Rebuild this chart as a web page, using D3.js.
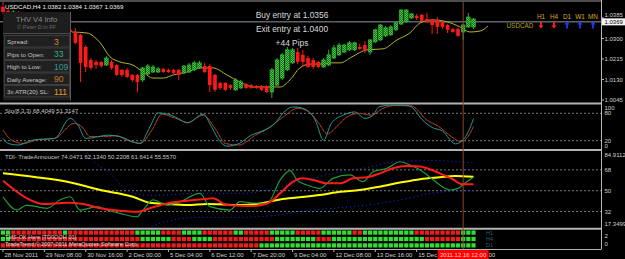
<!DOCTYPE html>
<html>
<head>
<meta charset="utf-8">
<script src="https://cdn.jsdelivr.net/npm/d3@7"></script>
<style>
body { margin: 0; background: #000; }
svg { display: block; font-family: "Liberation Sans", Arial, sans-serif; }
</style>
</head>
<body>
<div class="chart"></div>
<script>
// USDCAD H4

// candles, one per H4 bar (bar 0 = 28 Nov 00:00)
var opens  = [1.0431,1.0414,1.0398,1.0410,1.0389,1.0377,1.0389,1.0369,1.0356,1.0365,
              1.0348,1.0340,1.0352,1.0336,1.0327,1.0315,1.0265,1.0211,1.0203,1.0203,
              1.0190,1.0203,1.0190,1.0170,1.0170,1.0149,1.0149,1.0128,1.0153,1.0161,
              1.0161,1.0174,1.0170,1.0170,1.0170,1.0157,1.0161,1.0170,1.0178,1.0186,
              1.0186,1.0149,1.0116,1.0116,1.0107,1.0087,1.0095,1.0111,1.0107,1.0103,
              1.0103,1.0103,1.0078,1.0107,1.0136,1.0170,1.0199,1.0244,1.0232,1.0219,
              1.0211,1.0203,1.0182,1.0190,1.0219,1.0232,1.0244,1.0253,1.0253,1.0265,
              1.0273,1.0244,1.0286,1.0294,1.0311,1.0315,1.0336,1.0360,1.0369,1.0385,
              1.0394,1.0398,1.0381,1.0377,1.0377,1.0369,1.0356,1.0340,1.0340,1.0327,
              1.0348,1.0348];
var highs  = [1.0452,1.0422,1.0418,1.0414,1.0394,1.0398,1.0394,1.0373,1.0373,1.0369,
              1.0356,1.0360,1.0356,1.0344,1.0344,1.0319,1.0273,1.0219,1.0211,1.0207,
              1.0228,1.0211,1.0194,1.0174,1.0178,1.0153,1.0153,1.0182,1.0194,1.0190,
              1.0182,1.0178,1.0174,1.0174,1.0174,1.0190,1.0199,1.0207,1.0207,1.0199,
              1.0194,1.0153,1.0120,1.0120,1.0111,1.0136,1.0128,1.0116,1.0111,1.0107,
              1.0107,1.0107,1.0178,1.0219,1.0240,1.0265,1.0261,1.0261,1.0253,1.0228,
              1.0219,1.0207,1.0219,1.0253,1.0273,1.0282,1.0278,1.0290,1.0286,1.0278,
              1.0290,1.0298,1.0340,1.0360,1.0352,1.0356,1.0369,1.0422,1.0422,1.0406,
              1.0402,1.0402,1.0406,1.0381,1.0389,1.0373,1.0360,1.0344,1.0344,1.0360,
              1.0406,1.0385];
var lows   = [1.0402,1.0394,1.0390,1.0381,1.0369,1.0373,1.0360,1.0348,1.0352,1.0340,
              1.0331,1.0336,1.0327,1.0319,1.0277,1.0120,1.0161,1.0170,1.0174,1.0178,
              1.0186,1.0170,1.0145,1.0141,1.0136,1.0120,1.0078,1.0120,1.0149,1.0157,
              1.0157,1.0157,1.0157,1.0149,1.0128,1.0153,1.0157,1.0165,1.0174,1.0157,
              1.0078,1.0078,1.0087,1.0082,1.0087,1.0082,1.0091,1.0091,1.0091,1.0091,
              1.0082,1.0074,1.0053,1.0103,1.0128,1.0165,1.0194,1.0194,1.0182,1.0178,
              1.0174,1.0178,1.0178,1.0186,1.0215,1.0228,1.0240,1.0248,1.0248,1.0253,
              1.0240,1.0232,1.0282,1.0290,1.0306,1.0311,1.0331,1.0356,1.0365,1.0381,
              1.0377,1.0369,1.0365,1.0319,1.0319,1.0340,1.0323,1.0323,1.0306,1.0294,
              1.0344,1.0340];
var closes = [1.0410,1.0398,1.0410,1.0389,1.0377,1.0389,1.0369,1.0356,1.0365,1.0348,
              1.0340,1.0352,1.0336,1.0327,1.0282,1.0199,1.0182,1.0178,1.0190,1.0186,
              1.0219,1.0178,1.0149,1.0149,1.0141,1.0128,1.0120,1.0178,1.0186,1.0182,
              1.0174,1.0161,1.0161,1.0157,1.0149,1.0186,1.0190,1.0199,1.0199,1.0161,
              1.0107,1.0087,1.0095,1.0087,1.0095,1.0128,1.0120,1.0095,1.0095,1.0095,
              1.0087,1.0078,1.0170,1.0211,1.0232,1.0253,1.0253,1.0203,1.0203,1.0182,
              1.0182,1.0182,1.0211,1.0232,1.0261,1.0273,1.0273,1.0282,1.0282,1.0257,
              1.0253,1.0294,1.0336,1.0356,1.0344,1.0348,1.0365,1.0418,1.0418,1.0402,
              1.0385,1.0373,1.0369,1.0356,1.0348,1.0348,1.0336,1.0327,1.0311,1.0356,
              1.0389,1.0381];

// moving average (shifted), bar position / price
var maBars   = [13.3,16.2,18.8,20.7,22.6,25.1,27.1,29,31,32.9,35.6,38.1,40.6,43.3,45.8,48.4,51.1,53.6,55.5,57.4,59.4,61.3,63.2,65.2,67.5,70.4,73.5,76.2,78.7,80.7,83.2,85.9,88.4,90.3,92.3,93.8];
var maValues = [1.0327,1.0323,1.0282,1.0224,1.0203,1.0190,1.0161,1.0136,1.0136,1.0149,1.0161,1.0178,1.0178,1.0149,1.0120,1.0099,1.0099,1.0099,1.0128,1.0178,1.0194,1.0194,1.0199,1.0199,1.0224,1.0253,1.0257,1.0294,1.0323,1.0365,1.0377,1.0369,1.0348,1.0327,1.0331,1.0352];

var priceTicks = [1.0385, 1.0300, 1.0215, 1.0130, 1.0045];
var lastPrice = 1.0369;

// Stochastic(8,3,3)
var stoMainBars = [0,1,3,5.6,8,10,13,14.5,16,18.5,20,22.6,25,26.5,28.4,30,32,33.8,35.7,38.7,40.3,41.8,43.3,45.7,48,50.3,52.6,54.2,56,58,60.4,62,63.5,65.8,68,70,71.6,72.7,75,77.4,79,81,83,85,87.5,89,90,91];
var stoMain    = [25,14,10.5,21,23,25,69,54,25,29,32,29,18,14,50,81,78,69,59,78,51,21,8,14,32,42,58,81,94,91,65,21,58,76,83,69,76,94,98,98,94,67,49,41,13,22,40,68.4];
var stoSigBars = [0,1.7,4,7,10,13.7,15.3,16.8,19.5,21.8,24,26.5,28.8,30.7,33.4,35.7,38.7,41,43,45.7,48.8,51,54.2,57,59.2,61.1,62.7,64.6,66.5,68.9,71.2,73.5,75.8,79,82,84.3,86.7,88.6,90,91];
var stoSignal  = [43,21,14,23,25,58,50,29,29,31,21,14,43,78,69,60,76,47,14,10.5,32,45,72,91,83,58,35,51,72,80,76,91,97,96,65,51,29,18,30,51.3];
var stoLevels = [80, 20];
var stoTicks = [100, 80, 20, 0];

// TDI
var tdiYellowBars = [0,5.8,12.4,18.8,25.1,28.4,31.7,35.6,39.5,42,45.8,49.7,53.6,57.4,61.3,65.2,69,72.9,76.8,80.7,84.5,87.4,91];
var tdiYellow     = [65,62,57.8,50.6,44.8,39.6,38.5,37.6,38.5,38.2,37.6,39,42.5,44.3,46.3,49,50.6,53.5,57,60,61.6,62.7,62.1];
var tdiGreenBars = [0,2.7,4.6,8.5,11,13,14.9,18.2,20.1,22.6,25.9,27.1,29,31.7,34.2,38.1,40,43.9,45.8,47.8,51.1,53.6,55.5,56.9,58.8,61.3,63.8,67.1,69.6,71.6,74.3,76.8,78.7,80.7,82.6,84.5,86.5,88,89.7,91];
var tdiGreen     = [44.8,33.3,37.6,34.8,42,44.8,33.3,36.2,33.3,30.4,27.5,33.3,42,37.6,40.5,47.7,36.2,33.3,40.5,39.6,39,59.2,67.3,59.2,54.9,52,60.7,63.6,57.8,66.4,69.4,75,72.2,67.9,61.6,54.9,50.6,52,57.8,61.6];
var tdiRedBars = [0,1.4,4.6,7.7,12.4,15.5,18.8,22.6,25.9,28.4,31.7,35.6,39.5,40.6,43.3,47.8,51.1,53.6,56.1,58,60,62.7,65.2,67.7,70.4,72.9,75.4,78.1,80.7,82,84.5,87,88.8,91];
var tdiRed     = [58.6,53.5,43.4,38.5,39.6,38.5,34.8,32.7,31.8,34.8,39,41.3,43,43.4,37.6,36.7,39,47.7,57.8,60.7,59.2,56.4,56.4,60.7,61.6,65,69.4,71.4,71,69.4,65,59.9,55.5,55.6];
var tdiUpBars = [15.9,16.8,20.7,23.2,25.5,28.4,38.1,46.4,51.1,57.4,63.8,70.4,76.8,83.2,91];
var tdiUp     = [86,79.4,65,53.5,47.5,46,47.7,47.7,50.6,57.8,65,70,75.5,76,74];
var tdiLoBars = [15,16.8,22.6,28.4,30.4,38.1,44.5,51.1,57.4,63.8,70.4,76.8,83.2,91];
var tdiLo     = [16,18,16.5,18,22,27,27,28,32,34.8,37.6,42,48,50.2];
var tdiLevels = [68, 50, 32];
var tdiTicks = ["84.9112", "68", "50", "32", "17.3499"];

// trend squares (H1, H4, D1 rows), G = up, R = down
var trendRows = [
  "GGRRRRRRRR" + "RRGRRRRRRR" + "RRRRRRGGGG" + "GRRRRGGGGR" + "RRRRRGGRRR" + "RRGGGGGRRR" + "RRGGGGGGRR" + "GGGGGGGGGG" + "RRRRRRRRRG" + "GG",
  "GGRRRRRRRR" + "RRRRRRRRRR" + "RRRRRRRGGG" + "GGGRRRRGGG" + "GRRRRRRRRR" + "RRRGGGGGGG" + "GRRRGGGGGG" + "GGGGGGGGGG" + "GGRRRRRRRG" + "GG",
  "RRRRRRRRRR" + "RRRRRRRRRR" + "RRRRRRRRRR" + "RRRRRRRRRR" + "RRRRRRRRRR" + "GGGGGGGGGG" + "GGGGGGGGGG" + "GGGGGGGGGG" + "GGGGGGGGGG" + "GG"
];
var trendNames = ["H1", "H4", "D1"];

var timeLabels = ["28 Nov 2011", "29 Nov 08:00", "30 Nov 16:00", "2 Dec 00:00", "5 Dec 04:00", "6 Dec 12:00",
                  "7 Dec 20:00", "9 Dec 04:00", "12 Dec 08:00", "13 Dec 16:00", "15 Dec 00:00", "16 Dec 08:00"];
var timeLabelBars = [0, 8, 16, 24, 32, 40, 48, 56, 64, 72, 80, 88];
var vlineBar = 89;
var vlineLabel = "2011.12.16 12:00";

var infoLabels = ["Spread:", "Pips to Open:", "High to Low:", "Daily Average:", "3x ATR(20) SL:"];
var infoValues = ["3", "33", "109", "90", "111"];
var infoColors = ["#d88a30", "#2fae86", "#3a9494", "#c47a2a", "#e89a2a"];

var tfNames = ["H1", "H4", "D1", "W1", "MN"];
var tfDirs = [-1, -1, 1, 1, 1];

// ---- layout ----
var W = 625, H = 259;
var plotRight = 601;
var panels = {
  main:  {top: 2,     bottom: 102.5},
  sto:   {top: 104.5, bottom: 149},
  tdi:   {top: 151,   bottom: 227.8},
  trend: {top: 229.8, bottom: 249}
};

var svg = d3.select(".chart").append("svg")
  .attr("width", W).attr("height", H);
svg.append("rect").attr("width", W).attr("height", H).attr("fill", "#000");

var defs = svg.append("defs");
Object.keys(panels).forEach(function(k) {
  var p = panels[k];
  defs.append("clipPath").attr("id", "clip-" + k)
    .append("rect").attr("x", 0).attr("y", p.top).attr("width", plotRight).attr("height", p.bottom - p.top);
});
var hatch = defs.append("pattern").attr("id", "hatch")
  .attr("width", 2).attr("height", 2).attr("patternUnits", "userSpaceOnUse");
hatch.append("rect").attr("width", 2).attr("height", 2).attr("fill", "#136a13");
hatch.append("rect").attr("width", 1).attr("height", 1).attr("fill", "#4ccc4c");
hatch.append("rect").attr("x", 1).attr("y", 1).attr("width", 1).attr("height", 1).attr("fill", "#4ccc4c");

var xs = d3.scaleLinear().domain([0, 91]).range([3, 473.5]);
var yP = d3.scaleLinear().domain([1.0045, 1.0300]).range([100, 38.5]);
var ySto = d3.scaleLinear().domain([0, 100]).range([149.8, 104.2]);
var yTdi = d3.scaleLinear().domain([17.3499, 84.9112]).range([228.5, 150.3]);

function text(g, x, y, s, size, color, anchor) {
  return g.append("text").attr("x", x).attr("y", y).text(s)
    .attr("font-size", size).attr("fill", color)
    .attr("text-anchor", anchor || "start")
    .attr("dominant-baseline", "central");
}

// ---- frame ----
svg.append("line").attr("x1", 0).attr("x2", plotRight).attr("y1", 1).attr("y2", 1)
  .attr("stroke", "#9a9a9a").attr("stroke-width", 1);
svg.append("line").attr("x1", plotRight + 0.5).attr("x2", plotRight + 0.5).attr("y1", 0).attr("y2", 249.5)
  .attr("stroke", "#b8b8b8");
[103.5, 150, 228.8].forEach(function(y) {
  svg.append("line").attr("x1", 0).attr("x2", plotRight).attr("y1", y).attr("y2", y)
    .attr("stroke", "#b4b4b4").attr("stroke-width", 2);
});
svg.append("line").attr("x1", 0).attr("x2", plotRight).attr("y1", 249.5).attr("y2", 249.5)
  .attr("stroke", "#b4b4b4").attr("stroke-width", 1);

// ---- main panel ----
var main = svg.append("g").attr("clip-path", "url(#clip-main)");

main.append("line").attr("x1", 0).attr("x2", plotRight)
  .attr("y1", yP(lastPrice)).attr("y2", yP(lastPrice))
  .attr("stroke", "#8c96a0").attr("stroke-width", 1);

text(main, 5, 6.5, "USDCAD,H4  1.0382 1.0384 1.0367 1.0369", "6.2px", "#f0f0f0");

var maLine = d3.line().x(function(d) { return xs(d[0]); }).y(function(d) { return yP(d[1]); })
  .curve(d3.curveMonotoneX);
main.append("path").datum(d3.zip(maBars, maValues)).attr("d", maLine)
  .attr("fill", "none").attr("stroke", "#b4b428").attr("stroke-width", 1);

var bars = opens.map(function(o, i) {
  return {i: i, o: o, h: highs[i], l: lows[i], c: closes[i]};
});
main.selectAll("line.wick").data(bars).enter().append("line")
  .attr("class", "wick")
  .attr("x1", function(d) { return xs(d.i); }).attr("x2", function(d) { return xs(d.i); })
  .attr("y1", function(d) { return yP(d.h); }).attr("y2", function(d) { return yP(d.l); })
  .attr("stroke", function(d) { return d.c >= d.o ? "#2fae2f" : "#ff1818"; })
  .attr("stroke-width", 1);
main.selectAll("rect.body").data(bars).enter().append("rect")
  .attr("class", "body")
  .attr("x", function(d) { return xs(d.i) - 1.8; })
  .attr("width", 3.6)
  .attr("y", function(d) { return yP(Math.max(d.o, d.c)); })
  .attr("height", function(d) { return Math.max(1, Math.abs(yP(d.o) - yP(d.c))); })
  .attr("fill", function(d) { return d.c >= d.o ? "url(#hatch)" : "#ff1818"; })
  .attr("stroke", function(d) { return d.c >= d.o ? "#33b833" : "none"; })
  .attr("stroke-width", 0.7);

text(main, 292, 15, "Buy entry at 1.0356", "8.4px", "#d8d8d8", "middle");
text(main, 292, 29, "Exit entry at 1.0400", "8.4px", "#d8d8d8", "middle");
text(main, 292, 42.5, "+44 Pips", "8.4px", "#d8d8d8", "middle");

// timeframe arrows
var tfX = d3.scalePoint().domain(tfNames).range([541, 593]);
tfNames.forEach(function(n, k) {
  var cx = tfX(n);
  text(main, cx, 16, n, "6.4px", "#d8aa18", "middle");
  var d = tfDirs[k];
  var tip = d > 0 ? 21.5 : 28.5;
  var base = d > 0 ? 28.5 : 21.5;
  var neck = tip + d * 3;
  main.append("path")
    .attr("d", "M" + cx + "," + tip + "L" + (cx + 2.6) + "," + neck + "L" + (cx + 0.9) + "," + neck +
      "L" + (cx + 0.9) + "," + base + "L" + (cx - 0.9) + "," + base + "L" + (cx - 0.9) + "," + neck +
      "L" + (cx - 2.6) + "," + neck + "Z")
    .attr("fill", d > 0 ? "#1a3cff" : "#ff2020");
});
text(main, 520, 25, "USDCAD", "6.4px", "#b8a014", "middle");

// info box
var info = svg.append("g");
info.append("rect").attr("x", 3).attr("y", 12).attr("width", 67).attr("height", 88.5)
  .attr("fill", "#1d1d1d");
info.append("line").attr("x1", 70.5).attr("x2", 70.5).attr("y1", 12).attr("y2", 100.5).attr("stroke", "#5a5a5a");
info.append("line").attr("x1", 3).attr("x2", 70).attr("y1", 33.5).attr("y2", 33.5).attr("stroke", "#4a4a4a");
text(info, 36.5, 19.5, "THV  V4  Info", "7.6px", "#8c8c8c", "middle");
text(info, 36.5, 27, "\u00a9 Peter D in FF", "5.6px", "#6c6c6c", "middle");
infoLabels.forEach(function(lab, k) {
  var top = 35.5 + k * 12.5;
  info.append("rect").attr("x", 4.5).attr("y", top).attr("width", 65).attr("height", 11.5)
    .attr("fill", "#202020").attr("stroke", "#3c3c3c").attr("stroke-width", 1);
  text(info, 7, top + 6, lab, "6.2px", "#c4c4c4");
  text(info, 54, top + 6, infoValues[k], "8.6px", infoColors[k]);
});

// ---- stochastic panel ----
var sto = svg.append("g").attr("clip-path", "url(#clip-sto)");
stoLevels.forEach(function(v) {
  sto.append("line").attr("x1", 0).attr("x2", plotRight).attr("y1", ySto(v)).attr("y2", ySto(v))
    .attr("stroke", "#7c7c7c").attr("stroke-dasharray", "2,2");
});
var stoLine = d3.line().x(function(d) { return xs(d[0]); }).y(function(d) { return ySto(d[1]); })
  .curve(d3.curveMonotoneX);
sto.append("path").datum(d3.zip(stoSigBars, stoSignal)).attr("d", stoLine)
  .attr("fill", "none").attr("stroke", "#8a4020").attr("stroke-width", 1);
sto.append("path").datum(d3.zip(stoSigBars, stoSignal)).attr("d", stoLine)
  .attr("fill", "none").attr("stroke", "#ff2a10").attr("stroke-width", 1).attr("stroke-dasharray", "1,3");
sto.append("path").datum(d3.zip(stoMainBars, stoMain)).attr("d", stoLine)
  .attr("fill", "none").attr("stroke", "#1f9a9a").attr("stroke-width", 1);
text(sto, 5, 110.5, "Sto(8,3,3) 68.4049 51.3147", "6px", "#c4c4c4");

// ---- TDI panel ----
var tdi = svg.append("g").attr("clip-path", "url(#clip-tdi)");
tdiLevels.forEach(function(v) {
  tdi.append("line").attr("x1", 0).attr("x2", plotRight).attr("y1", yTdi(v)).attr("y2", yTdi(v))
    .attr("stroke", "#7c7c7c").attr("stroke-dasharray", "2,2");
});
var tdiLine = d3.line().x(function(d) { return xs(d[0]); }).y(function(d) { return yTdi(d[1]); })
  .curve(d3.curveMonotoneX);
tdi.append("path").datum(d3.zip(tdiUpBars, tdiUp)).attr("d", tdiLine)
  .attr("fill", "none").attr("stroke", "#1a2cff").attr("stroke-width", 1).attr("stroke-dasharray", "1,3");
tdi.append("path").datum(d3.zip(tdiLoBars, tdiLo)).attr("d", tdiLine)
  .attr("fill", "none").attr("stroke", "#1a2cff").attr("stroke-width", 1).attr("stroke-dasharray", "1,3");
tdi.append("path").datum(d3.zip(tdiYellowBars, tdiYellow)).attr("d", tdiLine)
  .attr("fill", "none").attr("stroke", "#ffff00").attr("stroke-width", 2);
tdi.append("path").datum(d3.zip(tdiGreenBars, tdiGreen)).attr("d", tdiLine)
  .attr("fill", "none").attr("stroke", "#1e9a3c").attr("stroke-width", 1.2);
tdi.append("path").datum(d3.zip(tdiRedBars, tdiRed)).attr("d", tdiLine)
  .attr("fill", "none").attr("stroke", "#ff1a1a").attr("stroke-width", 2);
text(tdi, 5, 157, "TDI- TradeAnnoucer 74.0471 62.1340 50.2208 61.6414 55.5570", "6px", "#c4c4c4");

// ---- trend squares ----
var trend = svg.append("g").attr("clip-path", "url(#clip-trend)");
var rowY = d3.scalePoint().domain(trendNames).range([232.6, 245.4]);
trendRows.forEach(function(row, r) {
  var cells = row.split("").map(function(c, i) { return {i: i, up: c === "G"}; });
  trend.selectAll("rect.r" + r).data(cells).enter().append("rect")
    .attr("x", function(d) { return xs(d.i) - 2.1; })
    .attr("y", rowY(trendNames[r]) - 2.1)
    .attr("width", 4.2).attr("height", 4.2)
    .attr("fill", function(d) { return d.up ? "#30e030" : "#f01c1c"; });
  text(trend, 486, rowY(trendNames[r]), trendNames[r], "5.5px", "#2c6270");
});
text(trend, 5, 236.5, "TMS-OK Here [TD0OOH 01]", "5.6px", "#dcdcdc");
text(trend, 5, 243.5, "TradeTrend \u00a9 2007-2011 MetaQuotes Software Corp.", "5.6px", "#dcdcdc");

// ---- vertical line ----
svg.append("line").attr("x1", xs(vlineBar)).attr("x2", xs(vlineBar)).attr("y1", 2).attr("y2", 249)
  .attr("stroke", "#8a4a28").attr("stroke-width", 1);

// ---- right axis ----
var ax = svg.append("g");
var boxY = yP(lastPrice);
priceTicks.forEach(function(p) {
  var y = yP(p);
  ax.append("line").attr("x1", plotRight).attr("x2", plotRight + 3).attr("y1", y).attr("y2", y).attr("stroke", "#b8b8b8");
  // labels crowded by the price box move up out of it
  var ly = Math.abs(y - boxY) < 7 ? boxY - 7 : y;
  text(ax, 604.5, ly, p.toFixed(4), "6px", "#d0d0d0");
});
ax.append("rect").attr("x", 602).attr("y", boxY - 3.5).attr("width", 23).attr("height", 7).attr("fill", "#f4f4f4");
text(ax, 604.5, boxY, lastPrice.toFixed(4), "6px", "#000");

stoTicks.forEach(function(v) {
  var y = Math.min(Math.max(ySto(v), panels.sto.top + 3), panels.sto.bottom - 3.5);
  text(ax, 604.5, y, String(v), "6px", "#d0d0d0");
});
var tdiTickY = [yTdi(84.9112) + 4.5, yTdi(68), yTdi(50), yTdi(32), yTdi(17.3499) - 4.5];
tdiTicks.forEach(function(s, k) {
  text(ax, 604.5, tdiTickY[k], s, "6px", "#d0d0d0");
});
text(ax, 604.5, 236, "2", "6px", "#d0d0d0");
text(ax, 604.5, 243.5, "0", "6px", "#d0d0d0");

// ---- time axis ----
var vx = xs(vlineBar);
var boxL = vx - 25.5, boxR = vx + 25.5;
var tclip = defs.append("clipPath").attr("id", "clip-time");
tclip.append("rect").attr("x", 0).attr("y", 249).attr("width", boxL).attr("height", 10);
tclip.append("rect").attr("x", boxR).attr("y", 249).attr("width", W - boxR).attr("height", 10);
var tg = ax.append("g").attr("clip-path", "url(#clip-time)");
timeLabelBars.forEach(function(b, k) {
  var x = xs(b);
  tg.append("line").attr("x1", x).attr("x2", x).attr("y1", 249).attr("y2", 252).attr("stroke", "#b8b8b8");
  text(tg, x + 1.5, 254.5, timeLabels[k], "6px", "#d0d0d0");
});
ax.append("rect").attr("x", boxL).attr("y", 250).attr("width", boxR - boxL).attr("height", 9).attr("fill", "#ff0000");
text(ax, vx, 254.5, vlineLabel, "6px", "#ffd8d8", "middle");
</script>
</body>
</html>
